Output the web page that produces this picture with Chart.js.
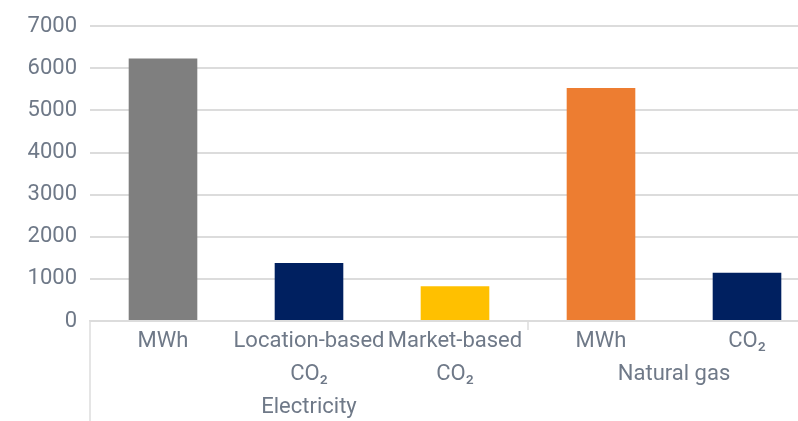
<!DOCTYPE html>
<html>
<head>
<meta charset="utf-8">
<script src="https://cdn.jsdelivr.net/npm/chart.js@4.4.1/dist/chart.umd.min.js"></script>
<style>
html, body { margin: 0; padding: 0; background: #fff; overflow: hidden; }
#wrap { width: 822px; height: 421px; }
</style>
</head>
<body>
<div id="wrap"><canvas id="chart" width="822" height="421"></canvas></div>
<script>
// Data
const categories = [['MWh'], ['Location-based', 'CO₂'], ['Market-based', 'CO₂'], ['MWh'], ['CO₂']];
const values = [6235, 1380, 825, 5535, 1145];
const barColors = ['#7f7f7f', '#002060', '#ffc000', '#ed7d31', '#002060'];
const groups = ['Electricity', 'Natural gas'];
const groupSizes = [3, 2];
const yMax = 7000;
const yStep = 1000;

const textColor = '#6f7988';
const lineColor = '#dcdcdc';
const fontSize = 22;
const lineHeight = 1.5;
const tickPad = 4;

// Draws the second-level (group) labels and the boundary lines
const groupAxis = {
    id: 'groupAxis',
    afterDraw(chart) {
        const x = chart.scales.x;
        const ctx = chart.ctx;
        ctx.save();
        ctx.strokeStyle = lineColor;
        ctx.lineWidth = 1.5;
        ctx.beginPath();
        ctx.moveTo(x.left, x.top);
        ctx.lineTo(x.left, chart.height);
        ctx.stroke();

        ctx.font = fontSize + 'px Roboto';
        ctx.fillStyle = textColor;
        ctx.textAlign = 'center';
        ctx.textBaseline = 'middle';
        let start = 0;
        groups.forEach((g, i) => {
            const end = start + groupSizes[i] - 1;
            let lines = 1;
            for (let k = start; k <= end; k++) lines = Math.max(lines, categories[k].length);
            const cx = (x.getPixelForTick(start) + x.getPixelForTick(end)) / 2;
            const cy = x.top + tickPad + fontSize * lineHeight * (lines + 0.5);
            ctx.fillText(g, cx, cy);
            if (i < groups.length - 1) {
                const bx = (x.getPixelForTick(end) + x.getPixelForTick(end + 1)) / 2;
                ctx.beginPath();
                ctx.moveTo(bx, x.top);
                ctx.lineTo(bx, x.top + 9);
                ctx.stroke();
            }
            start = end + 1;
        });
        ctx.restore();
    }
};

const ctx = document.getElementById('chart').getContext('2d');
new Chart(ctx, {
    type: 'bar',
    data: {
        labels: categories,
        datasets: [{
            data: values,
            backgroundColor: barColors,
            barPercentage: 0.47,
            categoryPercentage: 1
        }]
    },
    options: {
        responsive: false,
        animation: false,
        layout: { padding: { top: 24, right: 2, left: 0, bottom: 0 } },
        plugins: { legend: { display: false }, tooltip: { enabled: false } },
        scales: {
            x: {
                grid: { display: false, drawTicks: false },
                border: { display: true, color: lineColor, width: 1.5 },
                ticks: {
                    color: textColor,
                    font: { family: 'Roboto', size: fontSize, lineHeight: lineHeight },
                    padding: tickPad,
                    autoSkip: false,
                    maxRotation: 0,
                    minRotation: 0
                },
                afterFit: s => { s.height = 100; }
            },
            y: {
                min: 0,
                max: yMax,
                border: { display: false },
                grid: { color: lineColor, lineWidth: 2, drawTicks: false },
                ticks: {
                    stepSize: yStep,
                    color: textColor,
                    font: { family: 'Roboto', size: fontSize },
                    padding: 13,
                    callback: v => String(v)
                },
                afterFit: s => { s.width = 90; }
            }
        }
    },
    plugins: [groupAxis]
});
</script>
</body>
</html>
